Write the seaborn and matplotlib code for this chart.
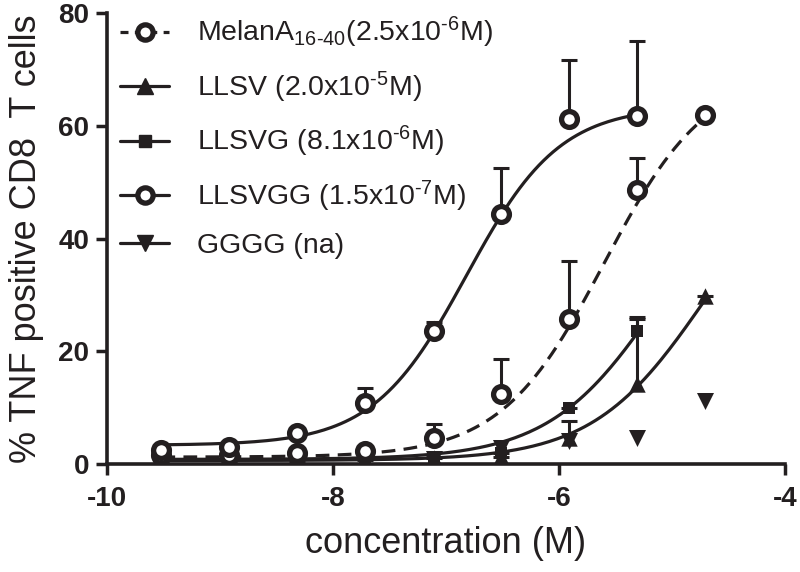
# Dose-response curves of TNF positive CD8 T cells for MelanA peptides
import matplotlib
matplotlib.use("Agg")
import matplotlib.pyplot as plt
from matplotlib.lines import Line2D
import numpy as np
import pandas as pd
import seaborn as sns

# log10 concentration (M) of the dilution series
log_conc = [-9.52, -8.92, -8.32, -7.72, -7.11, -6.51, -5.91, -5.31, -4.71]

melana_y = [1.5, 1.5, 2.0, 2.3, 4.6, 12.4, 25.7, 48.7, 62.0]
melana_err = [0.0, 0.0, 0.0, 0.5, 2.4, 6.2, 10.3, 5.6, 0.0]

llsv_y = [0.5, 0.5, 0.6, 0.7, 1.0, 1.2, 4.6, 14.2, 29.8]
llsv_err = [0.0, 0.0, 0.0, 0.0, 0.0, 0.0, 3.0, 11.6, 0.0]

llsvg_y = [0.8, 0.8, 0.8, 1.0, 1.2, 2.0, 10.0, 23.6]
llsvg_err = [0.0, 0.0, 0.0, 0.0, 0.0, 0.0, 0.0, 2.5]

llsvgg_y = [2.5, 3.0, 5.5, 10.8, 23.6, 44.3, 61.3, 61.7]
llsvgg_err = [0.3, 0.5, 0.5, 2.7, 1.5, 8.2, 10.3, 13.3]

gggg_y = [0.5, 0.5, 0.5, 0.6, 0.8, 2.8, 4.0, 4.6, 11.2]

labels = ["MelanA$_{16\u201040}$(2.5x10$^{\u20106}$M)",
          "LLSV (2.0x10$^{\u20105}$M)",
          "LLSVG (8.1x10$^{\u20106}$M)",
          "LLSVGG (1.5x10$^{\u20107}$M)",
          "GGGG (na)"]

# fitted 4-parameter logistic: bottom, top, logEC50, hill
fits = {
    "MelanA": (1.2, 70.0, -5.60, 0.95),
    "LLSV": (0.6, 58.0, -4.70, 0.87),
    "LLSVG": (0.8, 58.0, -5.09, 0.88),
    "LLSVGG": (3.3, 63.5, -6.82, 1.05),
}

ink = "#231f20"

sns.set_style("ticks")
plt.rcParams["font.family"] = ["Liberation Sans", "DejaVu Sans"]
plt.rcParams["mathtext.fontset"] = "custom"
plt.rcParams["mathtext.rm"] = "Liberation Sans"
plt.rcParams["mathtext.default"] = "regular"

fig = plt.figure(figsize=(8, 5.72), dpi=100)
ax = fig.add_axes([0.134, 0.189, 0.847, 0.788])


def curve(name, x_end, dashed=False):
    b, t, ec, h = fits[name]
    xs = np.linspace(log_conc[0], x_end, 200)
    ys = b + (t - b) / (1 + 10 ** ((ec - xs) * h))
    sns.lineplot(x=xs, y=ys, ax=ax, color=ink, lw=2.3, zorder=2)
    if dashed:
        ax.lines[-1].set_dashes((4.3, 2.6))


curve("LLSVGG", log_conc[7])
curve("MelanA", log_conc[8], dashed=True)
curve("LLSVG", log_conc[7])
curve("LLSV", log_conc[8])


def errs(x, y, e):
    _, caps, _ = ax.errorbar(x, y, yerr=[np.zeros(len(e)), e], fmt="none",
                             ecolor=ink, elinewidth=2.2, capsize=6,
                             capthick=2.2, zorder=3)
    caps[0].set_visible(False)


errs(log_conc, melana_y, melana_err)
errs(log_conc, llsv_y, llsv_err)
errs(log_conc[:8], llsvg_y, llsvg_err)
errs(log_conc[:8], llsvgg_y, llsvgg_err)

pts = pd.DataFrame({"x": log_conc, "y": gggg_y})
sns.scatterplot(data=pts, x="x", y="y", ax=ax, marker="v", s=150,
                color=ink, edgecolor=ink, linewidth=0, zorder=4)
pts = pd.DataFrame({"x": log_conc, "y": llsv_y})
sns.scatterplot(data=pts, x="x", y="y", ax=ax, marker="^", s=140,
                color=ink, edgecolor=ink, linewidth=0, zorder=4)
pts = pd.DataFrame({"x": log_conc[:8], "y": llsvg_y})
sns.scatterplot(data=pts, x="x", y="y", ax=ax, marker="s", s=80,
                color=ink, edgecolor=ink, linewidth=0, zorder=4)
pts = pd.DataFrame({"x": log_conc, "y": melana_y})
sns.scatterplot(data=pts, x="x", y="y", ax=ax, marker="o", s=130,
                facecolor="white", edgecolor=ink, linewidth=3.8, zorder=5)
pts = pd.DataFrame({"x": log_conc[:8], "y": llsvgg_y})
sns.scatterplot(data=pts, x="x", y="y", ax=ax, marker="o", s=130,
                facecolor="white", edgecolor=ink, linewidth=3.8, zorder=5)

ax.set_xlim(-10, -4)
ax.set_ylim(0, 80)
ax.set_xticks([-10, -8, -6, -4])
ax.set_yticks([0, 20, 40, 60, 80])
ax.set_xticklabels(["-10", "-8", "-6", "-4"])
ax.tick_params(width=2.5, length=8, labelsize=20, colors=ink, pad=5)
ax.tick_params(axis="x", pad=8)
for lab in ax.get_xticklabels() + ax.get_yticklabels():
    lab.set_fontweight("bold")
for side in ["left", "bottom"]:
    ax.spines[side].set_linewidth(2.6)
    ax.spines[side].set_color(ink)
sns.despine(ax=ax)
ax.set_xlabel("concentration (M)", fontsize=26, color=ink, labelpad=10)
ax.set_ylabel("% TNF positive CD8  T cells", fontsize=26, color=ink, labelpad=10)

handles = [
    Line2D([], [], color=ink, lw=2.3, dashes=(2.5, 2.0), marker="o", ms=11,
           mfc="white", mec=ink, mew=3.8),
    Line2D([], [], color=ink, lw=2.3, marker="^", ms=12, mfc=ink, mec=ink),
    Line2D([], [], color=ink, lw=2.3, marker="s", ms=8.5, mfc=ink, mec=ink),
    Line2D([], [], color=ink, lw=2.3, marker="o", ms=11, mfc="white",
           mec=ink, mew=3.8),
    Line2D([], [], color=ink, lw=2.3, marker="v", ms=12, mfc=ink, mec=ink),
]
ax.legend(handles, labels, loc="upper left", bbox_to_anchor=(-0.01, 1.04),
          frameon=False, fontsize=20.5, handlelength=1.7, handletextpad=1.0,
          labelspacing=0.68, borderaxespad=0.3, labelcolor=ink)

fig.savefig("out.png", dpi=100)
